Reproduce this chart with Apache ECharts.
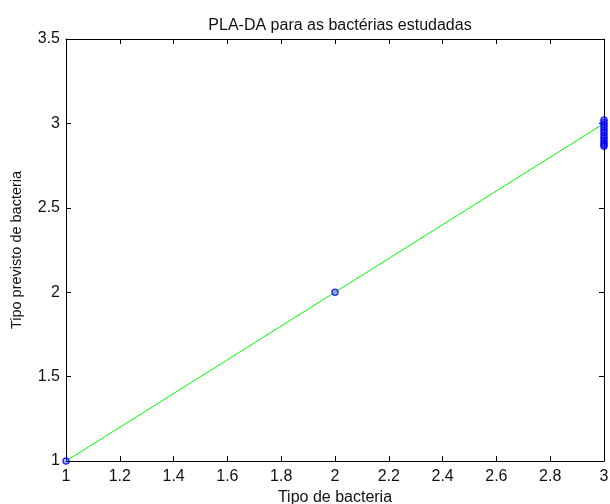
<!DOCTYPE html>
<html>
<head>
<meta charset="utf-8">
<script src="https://cdn.jsdelivr.net/npm/echarts@6/dist/echarts.min.js"></script>
<style>html,body{margin:0;padding:0;background:#fff}#c{width:610px;height:504px}</style>
</head>
<body>
<div id="c"></div>
<script>
var titleText = 'PLA-DA para as bactérias estudadas';
var xName = 'Tipo de bacteria';
var yName = 'Tipo previsto de bacteria';
var lineX = [1, 3];
var lineY = [1, 3];
var pointX = [1, 2, 3, 3, 3, 3, 3, 3, 3, 3, 3, 3, 3, 3];
var pointY = [1, 2, 3.02, 3.005, 2.99, 2.975, 2.96, 2.945, 2.93, 2.915, 2.90, 2.885, 2.875, 2.865];
var xTicks = [1, 1.2, 1.4, 1.6, 1.8, 2, 2.2, 2.4, 2.6, 2.8, 3];
var yTicks = [1, 1.5, 2, 2.5, 3, 3.5];

var FONT = 'Liberation Sans, Arial, sans-serif';
var chart = echarts.init(document.getElementById('c'), null, {renderer: 'canvas'});
var axisCommon = {
  type: 'value',
  axisLine: {show: true, onZero: false, lineStyle: {color: '#000', width: 1}},
  axisTick: {show: true, inside: true, length: 5, lineStyle: {color: '#000'}},
  splitLine: {show: false}
};
function fmt(v){ return String(Math.round(v * 10) / 10); }
chart.setOption({
  animation: false,
  backgroundColor: '#fff',
  title: {
    text: titleText, left: 335, top: 13, textAlign: 'center',
    textStyle: {fontFamily: FONT, fontSize: 16, fontWeight: 'normal', color: '#111'}
  },
  grid: {left: 66, right: 6, top: 39, bottom: 43, containLabel: false, outerBoundsMode: 'none'},
  xAxis: [
    Object.assign({}, axisCommon, {
      min: xTicks[0], max: xTicks[xTicks.length - 1], interval: 0.2, position: 'bottom',
      name: xName, nameLocation: 'middle', nameGap: 27,
      nameTextStyle: {fontFamily: FONT, fontSize: 16, color: '#111'},
      axisLabel: {fontFamily: FONT, fontSize: 16, color: '#111', margin: 8, formatter: fmt, showMaxLabel: true}
    }),
    Object.assign({}, axisCommon, {
      min: xTicks[0], max: xTicks[xTicks.length - 1], interval: 0.2, position: 'top',
      axisLabel: {show: false}
    })
  ],
  yAxis: [
    Object.assign({}, axisCommon, {
      min: yTicks[0], max: yTicks[yTicks.length - 1], interval: 0.5, position: 'left',
      name: yName, nameLocation: 'middle', nameGap: 42,
      nameTextStyle: {fontFamily: FONT, fontSize: 14.5, color: '#111'},
      axisLabel: {fontFamily: FONT, fontSize: 16, color: '#111', margin: 6, formatter: fmt}
    }),
    Object.assign({}, axisCommon, {
      min: yTicks[0], max: yTicks[yTicks.length - 1], interval: 0.5, position: 'right',
      axisLabel: {show: false}
    })
  ],
  series: [
    {
      type: 'line',
      data: lineX.map(function(x, i){ return [x, lineY[i]]; }),
      showSymbol: false, symbol: 'none',
      lineStyle: {color: '#00ff00', width: 1},
      z: 2
    },
    {
      type: 'scatter',
      data: pointX.map(function(x, i){ return [x, pointY[i]]; }),
      symbol: 'circle', symbolSize: 6,
      itemStyle: {color: 'rgba(0,0,255,0.3)', borderColor: '#0000ff', borderWidth: 1.5},
      z: 3
    }
  ]
});
</script>
</body>
</html>
